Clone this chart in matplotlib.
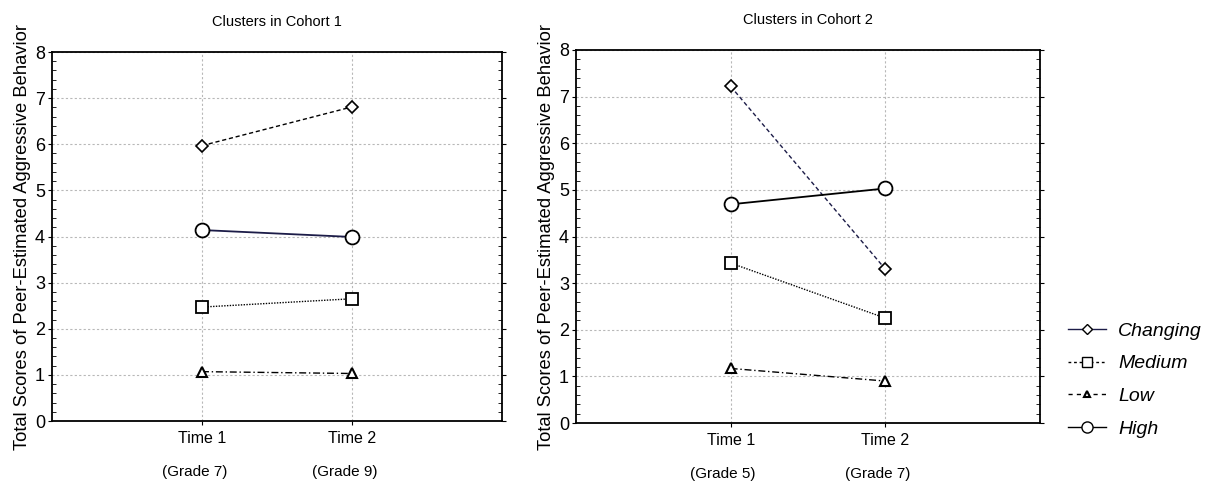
import matplotlib
matplotlib.use("Agg")
import matplotlib.pyplot as plt
from matplotlib.lines import Line2D
from matplotlib.ticker import MultipleLocator
import matplotlib.transforms as mtrans

plt.rcParams['font.family'] = ['Liberation Sans', 'DejaVu Sans']

times = ["Time 1", "Time 2"]
grades_c1 = ["(Grade 7)", "(Grade 9)"]
grades_c2 = ["(Grade 5)", "(Grade 7)"]
titles = ["Clusters in Cohort 1", "Clusters in Cohort 2"]
ylabel = "Total Scores of Peer-Estimated Aggressive Behavior"

c1_changing = [5.97, 6.81]
c1_medium = [2.47, 2.65]
c1_low = [1.07, 1.03]
c1_high = [4.14, 3.99]

c2_changing = [7.22, 3.30]
c2_medium = [3.43, 2.25]
c2_low = [1.17, 0.90]
c2_high = [4.69, 5.03]

legend_labels = ["Changing", "Medium", "Low", "High"]

navy = "#1c1c48"
fig = plt.figure(figsize=(12.18, 4.84), dpi=100)
ax1 = fig.add_axes([52/1218, 1-421/484, 450/1218, 369/484])
ax2 = fig.add_axes([576/1218, 1-423/484, 464/1218, 373/484])

xpos = [1, 2]

def draw(ax, ch, me, lo, hi, ch_color, high_color, grades, title):
    ax.plot(xpos, ch, linestyle=(0, (3, 2)), color=ch_color, lw=1.0,
            marker='D', markersize=6, mfc='white', mec='black', mew=1.2)
    ax.plot(xpos, me, linestyle=(0, (1, 1)), color='black', lw=1.0,
            marker='s', markersize=9, mfc='white', mec='black', mew=1.3)
    ax.plot(xpos, lo, linestyle=(0, (5, 2, 1, 2)), color='black', lw=1.0,
            marker='^', markersize=7, mfc='white', mec='black', mew=1.5)
    ax.plot(xpos, hi, linestyle='-', color=high_color, lw=1.3,
            marker='o', markersize=10, mfc='white', mec='black', mew=1.3)
    ax.set_xlim(0, 3)
    ax.set_ylim(0, 8)
    ax.set_xticks(xpos)
    ax.set_xticklabels(times, fontsize=11.5)
    ax.yaxis.set_major_locator(MultipleLocator(1))
    ax.yaxis.set_minor_locator(MultipleLocator(0.2))
    ax.tick_params(axis='y', which='major', labelsize=13, length=3, direction='out', pad=2, right=True)
    ax.tick_params(axis='y', which='minor', length=3, direction='in', right=True)
    ax.tick_params(axis='x', which='major', length=3, direction='out', pad=4)
    ax.grid(True, which='major', linestyle=(0, (2, 2)), color='#b8b8b8', lw=0.8)
    ax.set_axisbelow(True)
    for s in ax.spines.values():
        s.set_linewidth(1.3)
    ax.set_title(title, fontsize=10.5, pad=19)
    ax.set_ylabel(ylabel, fontsize=13.2, labelpad=3)
    trans = mtrans.blended_transform_factory(ax.transData, ax.transAxes)
    for x, g in zip(xpos, grades):
        ax.text(x - 0.05, -0.138, g, transform=trans, ha='center', va='center', fontsize=11)

draw(ax1, c1_changing, c1_medium, c1_low, c1_high, 'black', navy, grades_c1, titles[0])
draw(ax2, c2_changing, c2_medium, c2_low, c2_high, navy, 'black', grades_c2, titles[1])

handles = [
    Line2D([], [], color=navy, linestyle='-', lw=1.0, marker='D', markersize=5, mfc='white', mec='black'),
    Line2D([], [], color='black', linestyle=(0, (2, 2)), lw=1.0, marker='s', markersize=7, mfc='white', mec='black'),
    Line2D([], [], color='black', linestyle=(0, (3, 3)), lw=1.0, marker='^', markersize=5, mfc='white', mec='black', mew=1.5),
    Line2D([], [], color='black', linestyle='-', lw=1.0, marker='o', markersize=8, mfc='white', mec='black'),
]
leg = fig.legend(handles, legend_labels, loc='center left', bbox_to_anchor=(1050/1218, 1-380/484),
                 frameon=False, prop={'style': 'italic', 'size': 14}, handlelength=2.0,
                 labelspacing=0.78, handletextpad=0.6)

fig.savefig("out.png", dpi=100)
